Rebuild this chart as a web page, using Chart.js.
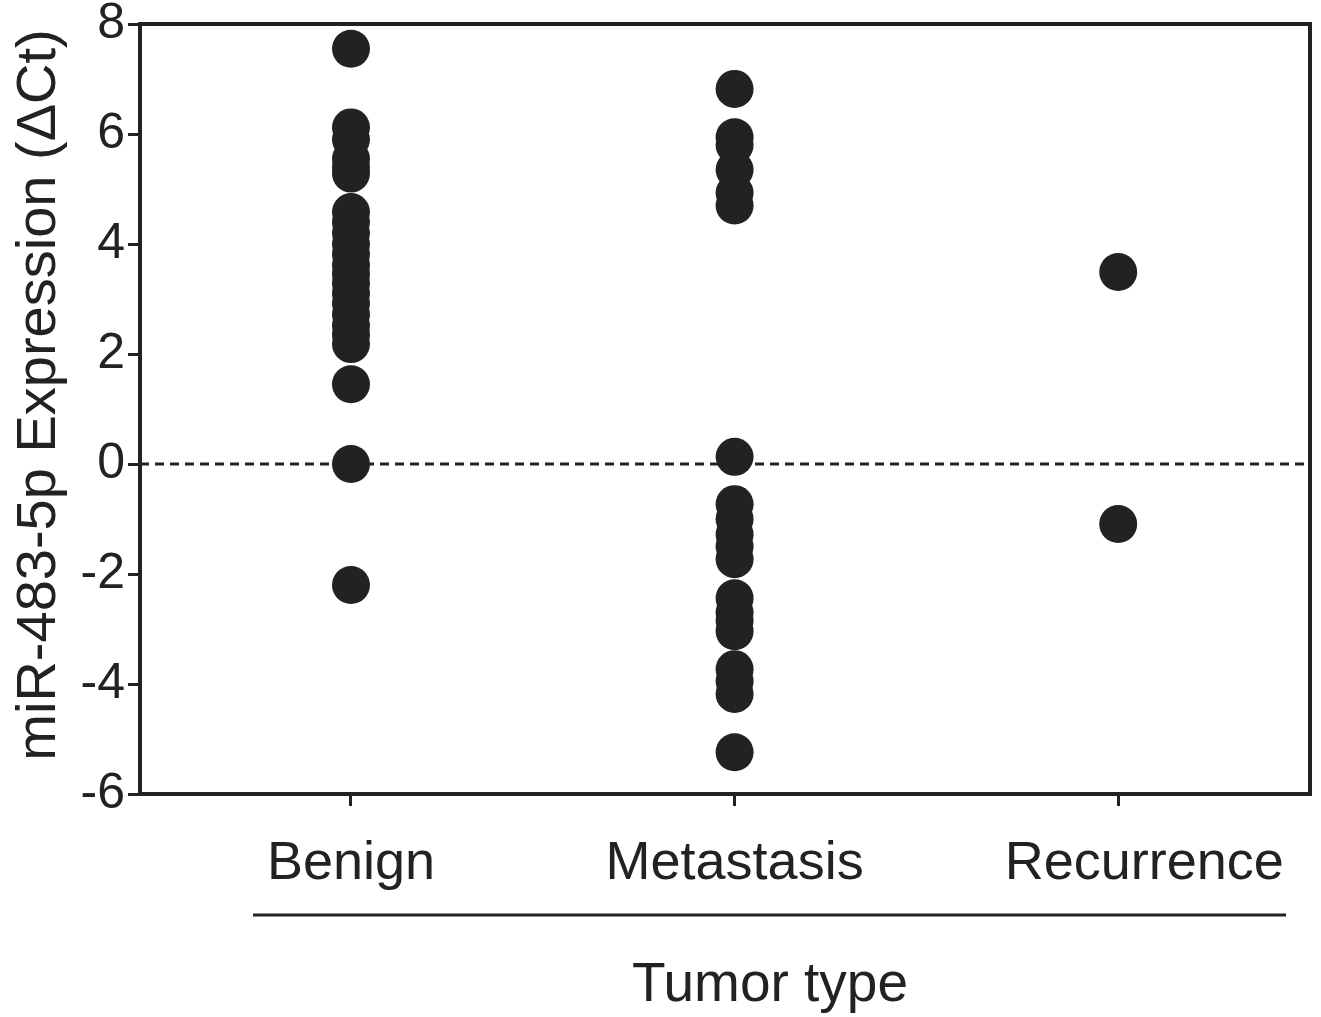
<!DOCTYPE html>
<html>
<head>
<meta charset="utf-8">
<script src="https://cdn.jsdelivr.net/npm/chart.js@4.4.0/dist/chart.umd.min.js"></script>
<style>
  html, body { margin: 0; padding: 0; background: #ffffff; }
  #wrap { width: 1321px; height: 1017px; position: relative; }
</style>
</head>
<body>
<div id="wrap"><canvas id="c" width="1321" height="1017"></canvas></div>
<script>
// ---- data ----
const categories = ["Benign", "Metastasis", "Recurrence"];
const benign = [7.55, 6.12, 5.9, 5.55, 5.4, 5.28, 4.58, 4.4, 4.2, 4.0, 3.82, 3.62, 3.45, 3.28, 3.1, 2.92, 2.72, 2.52, 2.35, 2.18, 1.45, 0.0, -2.2];
const metastasis = [6.82, 5.94, 5.8, 5.35, 4.93, 4.7, 0.13, -0.73, -1.0, -1.28, -1.5, -1.73, -2.44, -2.7, -2.85, -3.04, -3.73, -3.95, -4.18, -5.24];
const recurrence = [3.49, -1.09];
const yTicks = [-6, -4, -2, 0, 2, 4, 6, 8];
const yTitle = "miR-483-5p Expression (\u0394Ct)";
const xTitle = "Tumor type";

const INK = "#222222";
const FONT = "'Liberation Sans', Arial, sans-serif";

function toPoints(vals, idx) { return vals.map(v => ({ x: idx + 1, y: v })); }

const framePlugin = {
  id: "frame",
  beforeDatasetsDraw(chart) {
    const { ctx, chartArea: a, scales } = chart;
    const y0 = scales.y.getPixelForValue(0);
    ctx.save();
    ctx.strokeStyle = INK;
    ctx.lineWidth = 3;
    ctx.setLineDash([9, 6]);
    ctx.beginPath();
    ctx.moveTo(a.left, y0);
    ctx.lineTo(a.right, y0);
    ctx.stroke();
    ctx.restore();
  },
  afterDraw(chart) {
    const { ctx, chartArea: a, scales } = chart;
    ctx.save();
    ctx.strokeStyle = INK;
    ctx.lineWidth = 4;
    ctx.strokeRect(a.left, a.top, a.right - a.left, a.bottom - a.top);
    // category labels
    ctx.fillStyle = INK;
    ctx.font = "54px " + FONT;
    ctx.textAlign = "center";
    ctx.textBaseline = "alphabetic";
    const labelShift = [0, 0, 26];
    categories.forEach((c, i) => {
      const px = scales.x.getPixelForValue(i + 1) + labelShift[i];
      ctx.fillText(c, px, 879);
    });
    // group bracket line under category labels
    ctx.lineWidth = 3;
    ctx.beginPath();
    ctx.moveTo(253, 915);
    ctx.lineTo(1286, 915);
    ctx.stroke();
    // x title
    ctx.font = "55px " + FONT;
    ctx.textBaseline = "middle";
    ctx.fillText(xTitle, 770, 986);
    // y title
    ctx.font = "56px " + FONT;
    ctx.translate(40, 395);
    ctx.rotate(-Math.PI / 2);
    ctx.fillText(yTitle, 0, 0);
    ctx.restore();
  }
};

const ds = (vals, idx) => ({
  data: toPoints(vals, idx),
  pointRadius: 19,
  pointHoverRadius: 19,
  pointBackgroundColor: INK,
  pointBorderColor: INK,
  pointBorderWidth: 0,
  showLine: false,
  clip: false
});

new Chart(document.getElementById("c"), {
  type: "scatter",
  data: { datasets: [ds(benign, 0), ds(metastasis, 1), ds(recurrence, 2)] },
  options: {
    responsive: false,
    animation: false,
    devicePixelRatio: 1,
    layout: { autoPadding: false, padding: { top: 24, right: 11, left: 0, bottom: 0 } },
    plugins: { legend: { display: false }, tooltip: { enabled: false } },
    scales: {
      x: {
        type: "linear",
        min: 0.45,
        max: 3.5,
        afterBuildTicks(scale) { scale.ticks = categories.map((c, i) => ({ value: i + 1 })); },
        afterFit(scale) { scale.height = 223; scale.paddingLeft = 0; scale.paddingRight = 0; },
        grid: { display: true, drawOnChartArea: false, drawTicks: true, tickLength: 12, tickWidth: 3, tickColor: INK, color: INK },
        border: { display: false },
        ticks: {
          display: false,
          autoSkip: false,
          maxRotation: 0
        }
      },
      y: {
        min: -6,
        max: 8,
        afterBuildTicks(scale) { scale.ticks = yTicks.map(v => ({ value: v })); },
        afterFit(scale) { scale.width = 140; scale.paddingTop = 0; scale.paddingBottom = 0; },
        grid: { display: true, drawOnChartArea: false, drawTicks: true, tickLength: 12, tickWidth: 3, tickColor: INK, color: INK },
        border: { display: false },
        ticks: {
          color: INK,
          font: { family: FONT, size: 50 },
          padding: 3,
          autoSkip: false,
          callback: (v) => String(v)
        }
      }
    }
  },
  plugins: [framePlugin]
});
</script>
</body>
</html>
